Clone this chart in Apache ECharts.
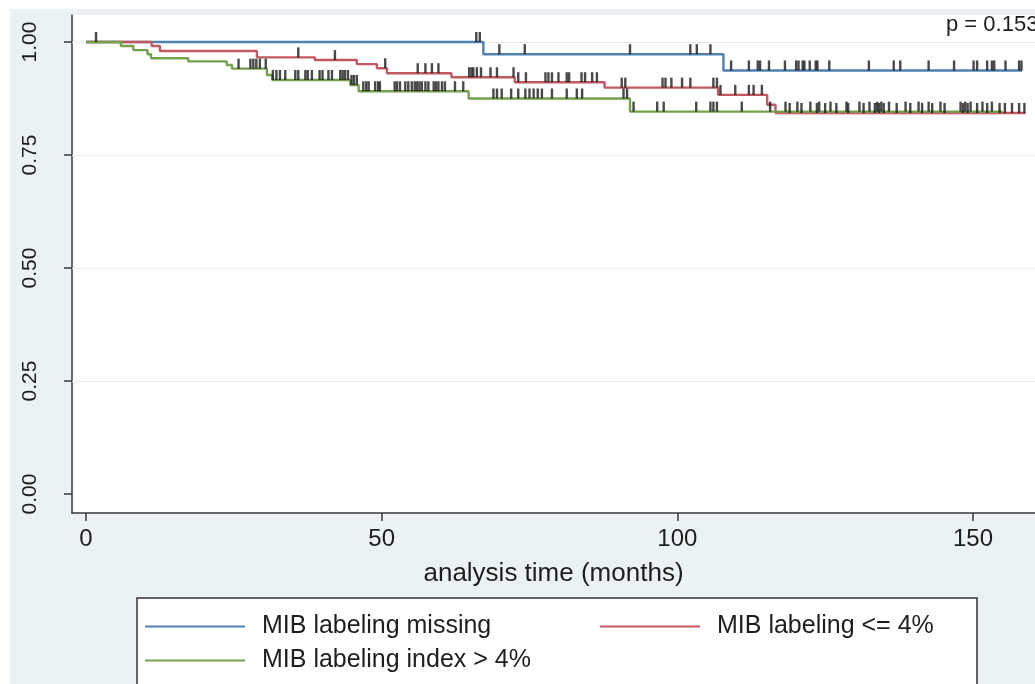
<!DOCTYPE html>
<html>
<head>
<meta charset="utf-8">
<script src="https://cdn.jsdelivr.net/npm/echarts@6/dist/echarts.min.js"></script>
<style>
  html, body { margin: 0; padding: 0; background: #fff; }
  #chart { width: 1035px; height: 684px; }
</style>
</head>
<body>
<div id="chart"></div>
<script>
// Kaplan-Meier estimates by MIB labeling group (time in months)
const seriesNames = ['MIB labeling missing', 'MIB labeling <= 4%', 'MIB labeling index > 4%'];

// Step points: time at which the survival estimate changes, and the new value
const missingTimes = [0, 67.2, 107.8, 158.3];
const missingSurv  = [1.0, 0.973, 0.937, 0.937];

const lowTimes = [0, 11.1, 12.5, 28.9, 38.7, 45.8, 49.2, 50.9, 61.8, 72.5, 87.7, 106.9, 115.2, 116.6, 158.9];
const lowSurv  = [1.0, 0.991, 0.980, 0.966, 0.960, 0.951, 0.942, 0.931, 0.922, 0.911, 0.899, 0.883, 0.861, 0.843, 0.843];

const highTimes = [0, 5.9, 8.0, 10.4, 11.0, 17.3, 23.8, 24.7, 30.6, 31.5, 44.7, 46.1, 64.7, 92.0, 155.0];
const highSurv  = [1.0, 0.991, 0.982, 0.973, 0.964, 0.957, 0.949, 0.941, 0.927, 0.916, 0.905, 0.891, 0.875, 0.846, 0.846];

// Censoring times
const missingCensor = [1.7, 66.0, 66.6, 69.9, 74.2, 92.0, 102.2, 103.3, 105.6, 109.1, 112.1, 113.6, 114.0,
  115.5, 118.2, 120.1, 120.5, 121.2, 121.5, 122.4, 123.4, 123.7, 125.7, 132.4, 136.6, 137.7, 142.5, 146.8,
  150.1, 150.7, 152.4, 153.2, 153.6, 155.5, 157.8, 158.2];

const lowCensor = [35.9, 42.1, 50.6, 56.1, 57.4, 58.5, 59.6, 64.8, 65.2, 65.5, 66.1, 66.8, 68.4, 69.5, 72.3,
  73.1, 74.4, 77.7, 78.2, 78.8, 79.9, 81.3, 81.7, 83.8, 84.4, 85.6, 86.4, 90.6, 91.2, 97.5, 98.0, 99.0, 100.8,
  102.2, 106.1, 106.7, 107.3, 109.8, 112.1, 112.9, 114.3, 119.0, 121.0, 123.6, 125.0, 126.9, 128.9, 131.5,
  133.4, 134.1, 134.9, 137.1, 139.4, 141.4, 143.1, 145.2, 148.3, 149.1, 150.7, 152.4, 154.5, 155.4, 156.6,
  157.8, 158.7];

const highCensor = [25.8, 27.8, 28.3, 28.8, 29.4, 30.4, 31.6, 32.2, 32.8, 33.7, 35.4, 35.9, 37.1, 37.5, 38.2,
  39.5, 40.0, 41.0, 41.6, 43.0, 43.4, 43.8, 44.3, 44.9, 45.3, 45.8, 46.9, 47.4, 47.8, 48.9, 49.4, 49.7, 52.2,
  52.6, 53.1, 54.0, 54.5, 55.1, 55.6, 56.0, 56.4, 56.8, 57.4, 57.9, 58.8, 59.2, 59.6, 60.2, 60.7, 62.4, 63.8,
  68.9, 69.5, 70.3, 71.9, 73.1, 74.3, 75.0, 75.7, 76.4, 77.1, 78.8, 81.3, 83.0, 83.9, 90.9, 91.5, 92.6, 96.6,
  97.7, 103.2, 105.6, 106.1, 106.7, 110.9, 115.7, 118.3, 120.3, 122.5, 124.0, 125.9, 128.6, 130.8, 132.5,
  133.8, 134.5, 135.8, 138.6, 140.8, 142.5, 144.5, 147.9, 148.7, 149.6, 151.6, 153.2];

// Axis ticks
const xTicks = [0, 50, 100, 150];
const yTicks = [0, 0.25, 0.5, 0.75, 1];
const yGridLines = [0.25, 0.5, 0.75, 1];

const pValueText = 'p = 0.153';

const colors = ['#5080b0', '#c25862', '#75a04c'];
const textColor = '#1e1e1e';
const axisColor = '#3a3a3a';
const fontFamily = '"Liberation Sans", Arial, sans-serif';

function survivalAt(times, surv, t) {
  let s = surv[0];
  for (let i = 0; i < times.length; i++) {
    if (times[i] <= t) s = surv[i];
  }
  return s;
}

function stepData(times, surv) {
  return times.map((t, i) => [t, surv[i]]);
}

function censorData(censor, times, surv) {
  return censor.map(t => [t, survivalAt(times, surv, t)]);
}

const groups = [
  { times: missingTimes, surv: missingSurv, censor: missingCensor },
  { times: lowTimes, surv: lowSurv, censor: lowCensor },
  { times: highTimes, surv: highSurv, censor: highCensor }
];

const series = [
  {
    name: 'grid',
    type: 'line',
    data: [],
    silent: true,
    z: 1,
    markLine: {
      silent: true,
      symbol: 'none',
      animation: false,
      z: 1,
      label: { show: false },
      lineStyle: { color: '#e4edef', width: 1.2, type: 'solid' },
      data: yGridLines.map(v => ({ yAxis: v }))
    }
  }
];

groups.forEach((g, i) => {
  series.push({
    name: seriesNames[i],
    type: 'line',
    step: 'end',
    showSymbol: false,
    symbol: 'none',
    color: colors[i],
    lineStyle: { color: colors[i], width: 2.4 },
    z: 3 + i,
    data: stepData(g.times, g.surv)
  });
});

groups.forEach((g, i) => {
  series.push({
    name: 'censored ' + (i + 1),
    type: 'scatter',
    symbol: 'rect',
    symbolSize: [2.4, 10],
    symbolOffset: [0, -5],
    itemStyle: { color: '#1c1c1c' },
    z: 7,
    data: censorData(g.censor, g.times, g.surv)
  });
});

function legendFor(name, left, top) {
  return {
    data: [name],
    left: left,
    top: top,
    orient: 'horizontal',
    icon: 'rect',
    itemWidth: 100,
    itemHeight: 2,
    padding: 0,
    selectedMode: false,
    textStyle: { fontFamily: fontFamily, fontSize: 25, color: textColor, padding: [0, 0, 0, 12] }
  };
}

const chart = echarts.init(document.getElementById('chart'), null, { renderer: 'canvas' });

chart.setOption({
  animation: false,
  backgroundColor: '#ffffff',
  title: {
    text: pValueText,
    left: 946,
    top: 14,
    padding: 0,
    textStyle: { fontFamily: fontFamily, fontSize: 22, fontWeight: 'normal', color: textColor }
  },
  graphic: [
    { type: 'rect', z: -10, shape: { x: 10, y: 9, width: 1030, height: 680 }, style: { fill: '#EAF2F3' } },
    { type: 'rect', z: 1, shape: { x: 137, y: 598, width: 840, height: 110 }, style: { fill: '#ffffff', stroke: '#333333', lineWidth: 1.5 } }
  ],
  legend: [
    legendFor(seriesNames[0], 145, 614),
    legendFor(seriesNames[1], 600, 614),
    legendFor(seriesNames[2], 145, 648)
  ],
  grid: {
    left: 72,
    top: 15,
    right: 0,
    bottom: 171,
    show: true,
    backgroundColor: '#ffffff',
    borderWidth: 0
  },
  xAxis: {
    type: 'value',
    min: -2.367,
    max: 160.49,
    axisLine: { show: true, onZero: false, lineStyle: { color: axisColor, width: 1.5 } },
    axisTick: { show: true, customValues: xTicks, length: 8, lineStyle: { color: axisColor, width: 1.5 } },
    axisLabel: { customValues: xTicks, margin: 14, fontFamily: fontFamily, fontSize: 24, color: textColor },
    splitLine: { show: false },
    name: 'analysis time (months)',
    nameLocation: 'middle',
    nameGap: 48,
    nameTextStyle: { fontFamily: fontFamily, fontSize: 26, color: textColor }
  },
  yAxis: {
    type: 'value',
    min: -0.042,
    max: 1.0597,
    axisLine: { show: true, onZero: false, lineStyle: { color: axisColor, width: 1.5 } },
    axisTick: { show: true, customValues: yTicks, length: 8, lineStyle: { color: axisColor, width: 1.5 } },
    axisLabel: {
      customValues: yTicks,
      rotate: 90,
      margin: 31,
      fontFamily: fontFamily,
      fontSize: 21,
      color: textColor,
      formatter: v => v.toFixed(2)
    },
    splitLine: { show: false }
  },
  series: series
});
</script>
</body>
</html>
